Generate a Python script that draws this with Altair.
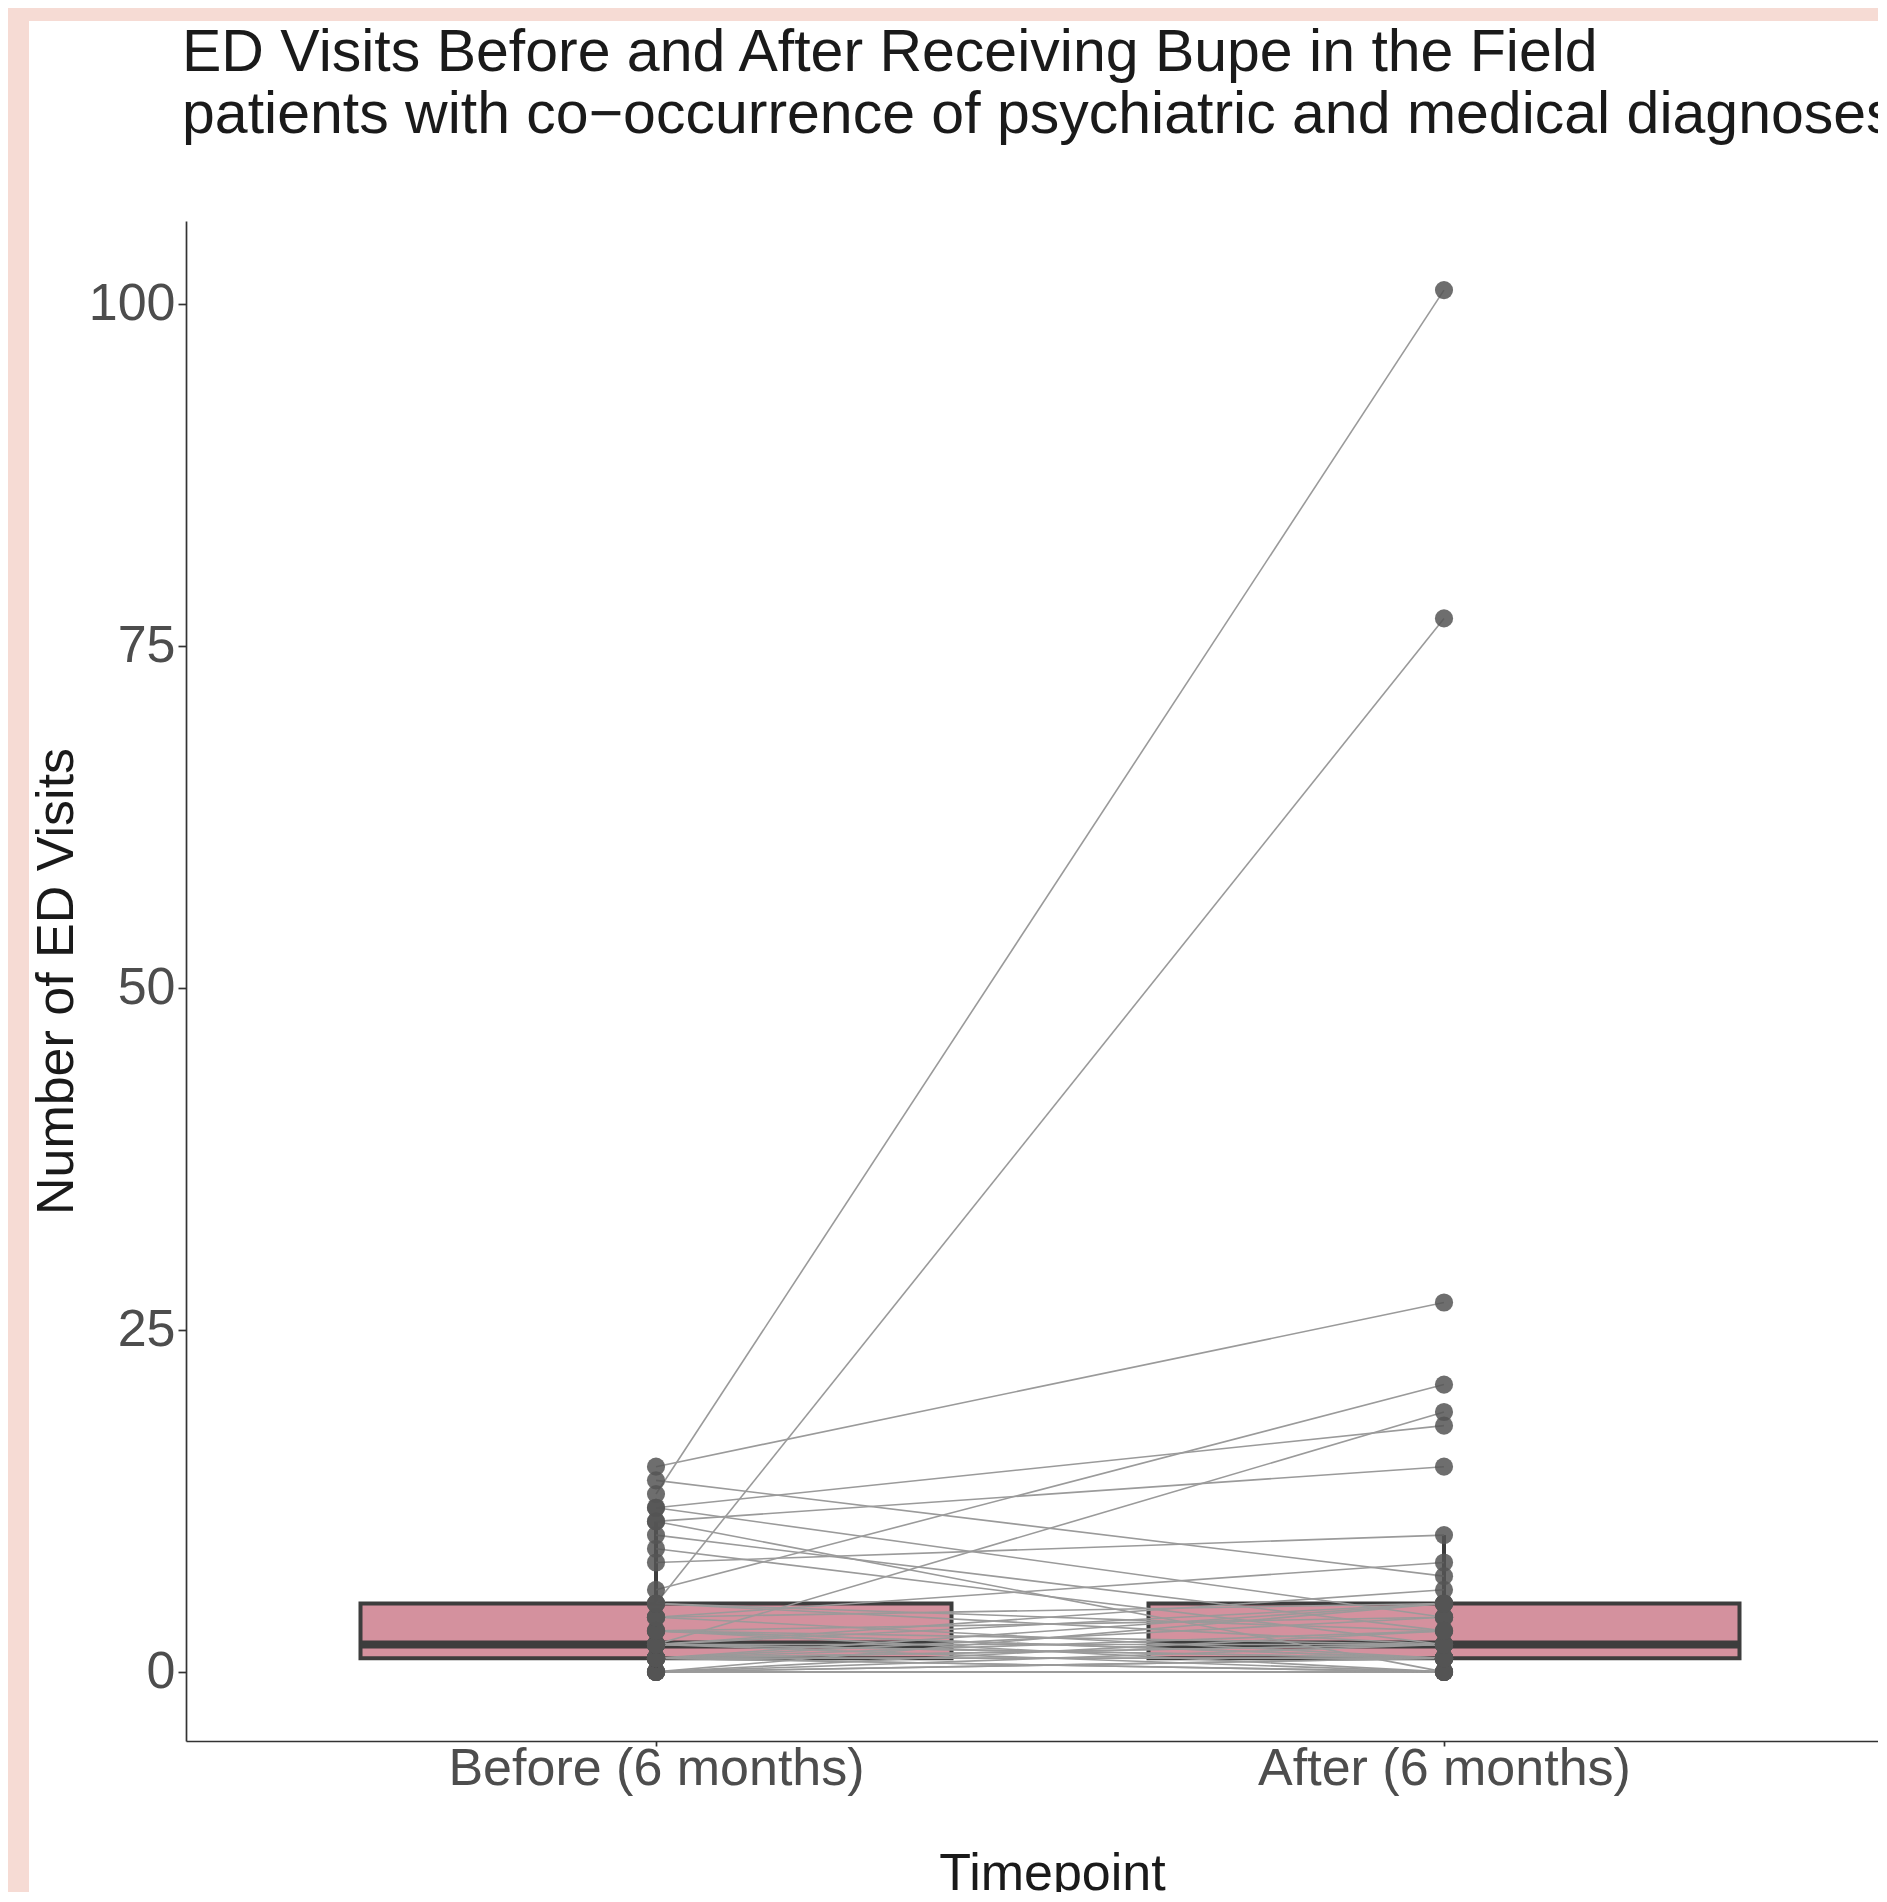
import json
import altair as alt
import pandas as pd

# ---------------- data ----------------
categories = ["Before (6 months)", "After (6 months)"]

# paired ED visit counts per patient (same index = same patient)
before = [13, 5, 15, 6, 2, 12, 11, 8, 14, 4, 2,
          9, 10, 11, 12,
          0, 0, 0, 0, 0, 0, 0, 0,
          1, 1, 1, 1, 1, 1, 1, 1, 1, 1,
          2, 2, 2, 2, 2,
          3, 3, 3, 3, 3,
          4, 4,
          5, 5]
after = [101, 77, 27, 21, 19, 18, 15, 10, 7, 8, 6,
         2, 3, 0, 4,
         1, 0, 2, 0, 1, 3, 0, 5,
         0, 1, 2, 1, 0, 5, 1, 2, 3, 4,
         1, 0, 1, 2, 5,
         2, 1, 0, 4, 1,
         1, 5,
         2, 3]

title_lines = ["ED Visits Before and After Receiving Bupe in the Field",
               "patients with co\u2212occurrence of psychiatric and medical diagnoses"]
y_ticks = [0, 25, 50, 75, 100]
x_title = "Timepoint"
y_title = "Number of ED Visits"

rows = []
for i, (b, a) in enumerate(zip(before, after)):
    rows.append({"id": i, "time": categories[0], "xpos": 1, "value": b})
    rows.append({"id": i, "time": categories[1], "xpos": 2, "value": a})
df = pd.DataFrame(rows)

# ---------------- styling ----------------
W, H = 1692, 1520
FONT = "Liberation Sans"
DARK = "#3d3d3d"
PINK = "#d4919e"
BG = "#f6dbd4"
HALF_BOX = 0.375          # half box width in category units
UNIT = 788                # px per category step
X0 = 1 - 470 / UNIT       # left edge of the panel in category units

x_scale = alt.Scale(domain=[X0, X0 + W / UNIT], nice=False, zero=False)
y_scale = alt.Scale(domain=[-5.05, 106.05], nice=False, zero=False)

label_expr = json.dumps(categories) + "[datum.value - 1]"

x_axis = alt.Axis(title=x_title, values=[1, 2], labelExpr=label_expr,
                  labelFontSize=52, labelColor="#4d4d4d", labelFont=FONT,
                  labelBaseline="alphabetic", labelPadding=38, labelAngle=0,
                  labelLimit=2000, labelFlush=False, labelOverlap=False,
                  tickSize=5, tickColor="#333333", tickWidth=1.7,
                  domainColor="#333333", domainWidth=1.7,
                  titleFont=FONT, titleFontSize=52, titleFontWeight="normal",
                  titleColor="#1a1a1a", titleX=866, titleY=148,
                  titleBaseline="alphabetic", titleAlign="center",
                  grid=False, zindex=1)
y_axis = alt.Axis(title=y_title, values=y_ticks, labelFontSize=52, labelColor="#4d4d4d",
                  labelFont=FONT, labelPadding=3, labelFlush=False,
                  tickSize=8, tickColor="#333333", tickWidth=1.7,
                  domainColor="#333333", domainWidth=1.7,
                  titleFont=FONT, titleFontSize=52, titleFontWeight="normal",
                  titleColor="#1a1a1a", titleAngle=270, titleX=-114, titleY=760,
                  titleBaseline="alphabetic", titleAlign="center",
                  grid=False, zindex=1)


def X(field):
    return alt.X(field, type="quantitative", scale=x_scale, axis=x_axis)


def Y(field):
    return alt.Y(field, type="quantitative", scale=y_scale, axis=y_axis)


# white page area (the reference has a pink frame on the left/top)
bg = alt.Chart(alt.Data(values=[{}])).mark_rect(color="white").encode(
    x=alt.value(-157), x2=alt.value(W + 50), y=alt.value(-200), y2=alt.value(H + 200))

base = alt.Chart(df)

whisk = base.transform_joinaggregate(
    q1="q1(value)", q3="q3(value)", groupby=["xpos"]
).transform_calculate(
    lo="datum.q1 - 1.5 * (datum.q3 - datum.q1)",
    hi="datum.q3 + 1.5 * (datum.q3 - datum.q1)"
).transform_filter(
    "datum.value >= datum.lo && datum.value <= datum.hi"
).transform_aggregate(
    wmin="min(value)", wmax="max(value)", bq1="max(q1)", bq3="max(q3)", groupby=["xpos"]
)
upper = whisk.mark_rule(color=DARK, strokeWidth=4).encode(x=X("xpos"), y=Y("bq3"), y2="wmax:Q")
lower = whisk.mark_rule(color=DARK, strokeWidth=4).encode(x=X("xpos"), y=Y("wmin"), y2="bq1:Q")

stats = base.transform_aggregate(
    q1="q1(value)", med="median(value)", q3="q3(value)", groupby=["xpos"]
).transform_calculate(
    xl=f"datum.xpos - {HALF_BOX}", xr=f"datum.xpos + {HALF_BOX}"
)
box = stats.mark_rect(fill=PINK, stroke=DARK, strokeWidth=4).encode(
    x=X("xl"), x2="xr:Q", y=Y("q1"), y2="q3:Q")
med = stats.mark_rule(color=DARK, strokeWidth=8).encode(
    x=X("xl"), x2="xr:Q", y=Y("med"))

lines = base.mark_line(color="#9a9a9a", strokeWidth=1.6).encode(
    x=X("xpos"), y=Y("value"), detail="id:N", order="xpos:Q")
points = base.mark_circle(size=330, color="#555555", opacity=0.85).encode(
    x=X("xpos"), y=Y("value"))

chart = alt.layer(bg, upper, lower, box, med, lines, points).properties(
    width=W, height=H,
    title=alt.TitleParams(text=title_lines, anchor="start", frame="group", orient="top",
                          fontSize=59, font=FONT, fontWeight="normal", color="#1a1a1a",
                          lineHeight=62, offset=0, dy=124, dx=-4),
    background=BG,
    padding={"left": 178, "top": 213, "right": 0, "bottom": 151},
    autosize=alt.AutoSizeParams(type="none"),
).configure_view(stroke=None)

chart.save("out.html", embed_options={"renderer": "svg", "actions": False})
